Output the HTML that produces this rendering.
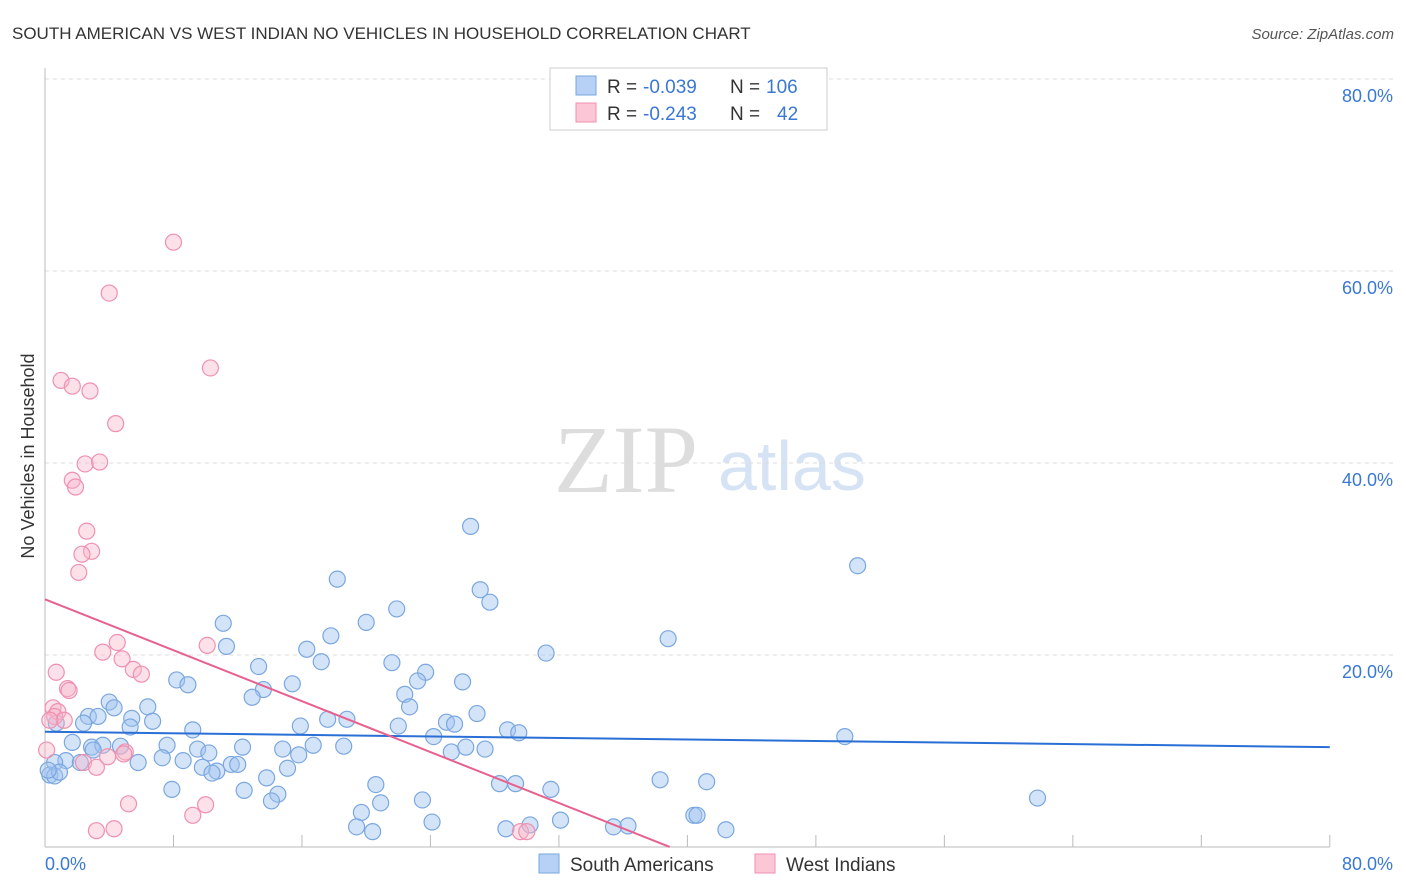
<!DOCTYPE html>
<html><head><meta charset="utf-8"><style>
body{margin:0;background:#fff;font-family:"Liberation Sans",sans-serif;}
svg{display:block}
</style></head><body>
<svg id="chart" width="1406" height="892">
<text x="12" y="39" font-size="17" fill="#333">SOUTH AMERICAN VS WEST INDIAN NO VEHICLES IN HOUSEHOLD CORRELATION CHART</text>
<text x="1394" y="39" font-size="15" fill="#555" font-style="italic" text-anchor="end">Source: ZipAtlas.com</text>
<g>
<text x="554" y="492" font-size="96" fill="#ddd" font-family="Liberation Serif,serif">ZIP</text>
<text x="718" y="490" font-size="70" fill="#d5e3f5">atlas</text>
</g>
<g id="grid"></g><g id="axes"></g><g id="marks"></g>
<text transform="translate(34,456) rotate(-90)" font-size="18" fill="#333" text-anchor="middle">No Vehicles in Household</text>
<g>
<rect x="550" y="68" width="277" height="62" fill="#fff" stroke="#ccc"/>
<rect x="576" y="76" width="20" height="19" fill="#b6d1f5" stroke="#7aa7e0"/>
<rect x="576" y="103" width="20" height="19" fill="#fbc6d6" stroke="#f090b0"/>
<text x="607" y="93" font-size="19" fill="#333">R =</text>
<text x="643" y="93" font-size="19" fill="#3a78d4">-0.039</text>
<text x="730" y="93" font-size="19" fill="#333">N =</text>
<text x="766" y="93" font-size="19" fill="#3a78d4">106</text>
<text x="607" y="120" font-size="19" fill="#333">R =</text>
<text x="643" y="120" font-size="19" fill="#3a78d4">-0.243</text>
<text x="730" y="120" font-size="19" fill="#333">N =</text>
<text x="777" y="120" font-size="19" fill="#3a78d4">42</text>
</g>
<g>
<rect x="539" y="854" width="20" height="19" fill="#b6d1f5" stroke="#7aa7e0"/>
<text x="570" y="871" font-size="19" fill="#333">South Americans</text>
<rect x="755" y="854" width="20" height="19" fill="#fbc6d6" stroke="#f090b0"/>
<text x="786" y="871" font-size="19" fill="#333">West Indians</text>
</g>
</svg>
<script>
const yTicks=[20,40,60,80];
const yTickLabels=["20.0%","40.0%","60.0%","80.0%"];
const xTicks=[0,8,16,24,32,40,48,56,64,72,80];
const blueX=[26.5,50.6,18.2,27.1,27.7,21.9,11.1,17.8,20.0,38.8,31.2,11.3,16.3,17.2,21.6,13.3,8.2,8.9,13.6,15.4,23.7,23.2,26.0,22.4,12.9,22.7,4.0,4.3,6.4,2.7,3.3,5.4,6.7,5.3,2.4,0.7,9.2,15.9,17.6,18.8,22.0,25.0,25.5,26.9,28.8,29.5,49.8,1.7,2.9,3.6,4.7,7.6,9.5,10.2,12.3,14.8,16.7,18.6,24.2,25.3,26.2,27.4,3.0,1.3,0.6,2.2,5.8,7.3,8.6,9.8,10.7,11.6,12.0,10.4,13.8,15.1,15.8,20.6,28.3,29.3,38.3,41.2,31.5,7.9,12.4,14.5,14.1,20.9,23.5,19.7,61.8,19.4,20.4,24.1,28.7,30.2,32.1,35.4,36.3,40.4,40.6,42.4,0.3,0.6,0.9,0.2];
const blueY=[33.4,29.3,27.9,26.8,25.5,24.8,23.3,22.0,23.4,21.7,20.2,20.9,20.6,19.3,19.2,18.8,17.4,16.9,16.4,17.0,18.2,17.3,17.2,15.9,15.6,14.6,15.1,14.5,14.6,13.6,13.6,13.4,13.1,12.5,12.9,12.9,12.2,12.6,13.3,13.3,12.6,13.0,12.8,13.9,12.2,11.9,11.5,10.9,10.4,10.6,10.5,10.6,10.2,9.8,10.4,10.2,10.6,10.5,11.5,9.9,10.4,10.2,10.1,9.0,8.8,8.8,8.8,9.3,9.0,8.3,7.9,8.6,8.6,7.7,7.2,8.2,9.6,6.5,6.6,6.6,7.0,6.8,6.0,6.0,5.9,5.5,4.8,4.6,4.9,3.6,5.1,2.1,1.6,2.6,1.9,2.3,2.8,2.1,2.2,3.3,3.3,1.8,7.5,7.4,7.8,8.0];
const pinkX=[8.0,4.0,10.3,1.0,1.7,2.8,4.4,2.5,3.4,1.7,1.9,2.6,2.9,2.3,2.1,4.5,3.6,10.1,4.8,5.5,6.0,0.7,1.4,1.5,0.5,0.8,0.6,1.2,0.1,5.0,4.9,3.9,2.4,3.2,5.2,10.0,9.2,3.2,4.3,29.6,30.0,0.3];
const pinkY=[63.0,57.7,49.9,48.6,48.0,47.5,44.1,39.9,40.1,38.2,37.5,32.9,30.8,30.5,28.6,21.3,20.3,21.0,19.6,18.5,18.0,18.2,16.5,16.3,14.5,14.1,13.6,13.2,10.1,9.9,9.7,9.4,8.8,8.3,4.5,4.4,3.3,1.7,1.9,1.6,1.6,13.2];
const trendIntercept=[12.0,25.8];
const trendSlope=[-0.02,-0.663];
const trendEnd=[80,38.9];

const NS="http://www.w3.org/2000/svg";
const X=v=>45+v*16.06, Y=v=>847-v*9.6;
function mk(tag,attrs,parent){const e=document.createElementNS(NS,tag);for(const k in attrs)e.setAttribute(k,attrs[k]);parent.appendChild(e);return e;}
const grid=document.getElementById('grid'),axes=document.getElementById('axes'),marks=document.getElementById('marks');
yTicks.forEach((t,i)=>{
 const l=mk('line',{x1:45,x2:1393,y1:Y(t),y2:Y(t),stroke:'#ddd','stroke-dasharray':'4,4'},grid);
 
 
 const tx=mk('text',{x:1393,y:Y(t)+23,'font-size':18,fill:'#3a78d4','text-anchor':'end'},axes);
 tx.textContent=yTickLabels[i];
 
 
});
const ya=mk('line',{x1:45,x2:45,y1:68,y2:847,stroke:'#bbb'},axes);


const xa=mk('line',{x1:45,x2:X(80),y1:847,y2:847,stroke:'#bbb'},axes);


xTicks.forEach(t=>{
 const l=mk('line',{x1:X(t),x2:X(t),y1:835,y2:847,stroke:'#bbb'},axes);
 
 
});
const xl0=mk('text',{x:45,y:870,'font-size':18,fill:'#3a78d4'},axes);xl0.textContent='0.0%';


const xl1=mk('text',{x:1393,y:870,'font-size':18,fill:'#3a78d4','text-anchor':'end'},axes);xl1.textContent='80.0%';


blueX.forEach((x,i)=>{
 const c=mk('circle',{cx:X(x),cy:Y(blueY[i]),r:8,fill:'rgba(160,196,240,0.45)',stroke:'#7aa7e0','stroke-width':1.2},marks);
 
 
});
pinkX.forEach((x,i)=>{
 const c=mk('circle',{cx:X(x),cy:Y(pinkY[i]),r:8,fill:'rgba(248,180,200,0.4)',stroke:'#f090b0','stroke-width':1.2},marks);
 
 
});
const cols=['#2a6fd6','#e8608e'];
trendIntercept.forEach((b,i)=>{
 const e=trendEnd[i];
 const l=mk('line',{x1:X(0),y1:Y(b),x2:X(e),y2:Y(b+trendSlope[i]*e),stroke:cols[i],'stroke-width':2},marks);
 
 
});
</script>
</body></html>
